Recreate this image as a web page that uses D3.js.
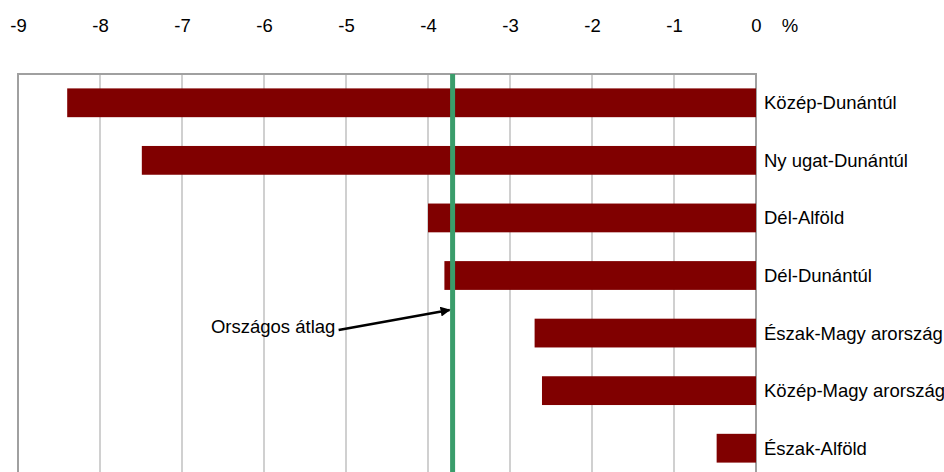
<!DOCTYPE html>
<html>
<head>
<meta charset="utf-8">
<script src="https://cdn.jsdelivr.net/npm/d3@7"></script>
<style>
  body { margin: 0; background: #fff; }
  text { font-family: "Liberation Sans", Arial, sans-serif; }
</style>
</head>
<body>
<svg id="mainsvg" width="944" height="472"></svg>
<script>
// data
const regions = ['Közép-Dunántúl', 'Ny ugat-Dunántúl', 'Dél-Alföld', 'Dél-Dunántúl',
  'Észak-Magy arország', 'Közép-Magy arország', 'Észak-Alföld'];
const values = [-8.40, -7.49, -4.00, -3.80, -2.70, -2.61, -0.48];
const average = -3.70;
const tickValues = [-9, -8, -7, -6, -5, -4, -3, -2, -1, 0];
const avgLabel = 'Országos átlag';
const unitLabel = '%';

const svg = d3.select('#mainsvg');
const margin = {top: 74, left: 18, right: 188};
const plotBottom = 477;   // plot continues below the visible frame
const fontSize = 18.5;

const xScale = d3.scaleLinear().domain([-9, 0]).range([margin.left, 944 - margin.right]);
const yScale = d3.scaleBand().domain(regions).range([margin.top, plotBottom]).paddingInner(0.5).paddingOuter(0.25);

// gridlines
svg.append('g').selectAll('line').data(tickValues).join('line')
  .attr('x1', d => xScale(d)).attr('x2', d => xScale(d))
  .attr('y1', margin.top).attr('y2', plotBottom)
  .attr('stroke', '#c0c0c0').attr('stroke-width', 1.5);

// plot frame: top, left, right (zero)
svg.append('path')
  .attr('d', `M${xScale(-9)},${plotBottom}V${margin.top}H${xScale(0)}V${plotBottom}`)
  .attr('fill', 'none').attr('stroke', '#a0a0a0').attr('stroke-width', 2);

// tick labels on top
const xAxis = d3.axisTop(xScale).tickValues(tickValues).tickSize(0).tickPadding(0).tickFormat(d3.format('d'));
const axisG = svg.append('g').attr('transform', 'translate(0,32)').call(xAxis);
axisG.select('.domain').remove();
axisG.selectAll('text')
  .attr('font-size', fontSize).attr('fill', '#000')
  .style('font-family', '"Liberation Sans", Arial, sans-serif')
  .text(d => d === 0 ? '0' : '-' + Math.abs(d));

svg.append('text')
  .attr('x', xScale(0) + 34).attr('y', 32)
  .attr('font-size', fontSize).attr('text-anchor', 'middle')
  .text(unitLabel);

// bars
svg.append('g').selectAll('rect').data(values).join('rect')
  .attr('x', d => xScale(d))
  .attr('y', (d, i) => yScale(regions[i]))
  .attr('width', d => xScale(0) - xScale(d))
  .attr('height', yScale.bandwidth())
  .attr('fill', '#800000');

// category labels
svg.append('g').selectAll('text').data(regions).join('text')
  .attr('x', xScale(0) + 8)
  .attr('y', d => yScale(d) + yScale.bandwidth() / 2)
  .attr('dy', '0.35em')
  .attr('font-size', fontSize)
  .text(d => d);

// national average line
svg.append('line')
  .attr('x1', xScale(average)).attr('x2', xScale(average))
  .attr('y1', margin.top).attr('y2', plotBottom)
  .attr('stroke', '#3a9d6b').attr('stroke-width', 5);

// annotation
svg.append('defs').append('marker')
  .attr('id', 'arrow').attr('viewBox', '0 0 10 10')
  .attr('refX', 9).attr('refY', 5)
  .attr('markerWidth', 4).attr('markerHeight', 4)
  .attr('orient', 'auto')
  .append('path').attr('d', 'M0,0L10,5L0,10z').attr('fill', '#000');

svg.append('text')
  .attr('x', xScale(-5.13)).attr('y', 333)
  .attr('font-size', fontSize).attr('text-anchor', 'end')
  .text(avgLabel);

svg.append('line')
  .attr('x1', xScale(-5.09)).attr('y1', 330)
  .attr('x2', xScale(average) - 3).attr('y2', 310)
  .attr('stroke', '#000').attr('stroke-width', 2.5)
  .attr('marker-end', 'url(#arrow)');
</script>
</body>
</html>
